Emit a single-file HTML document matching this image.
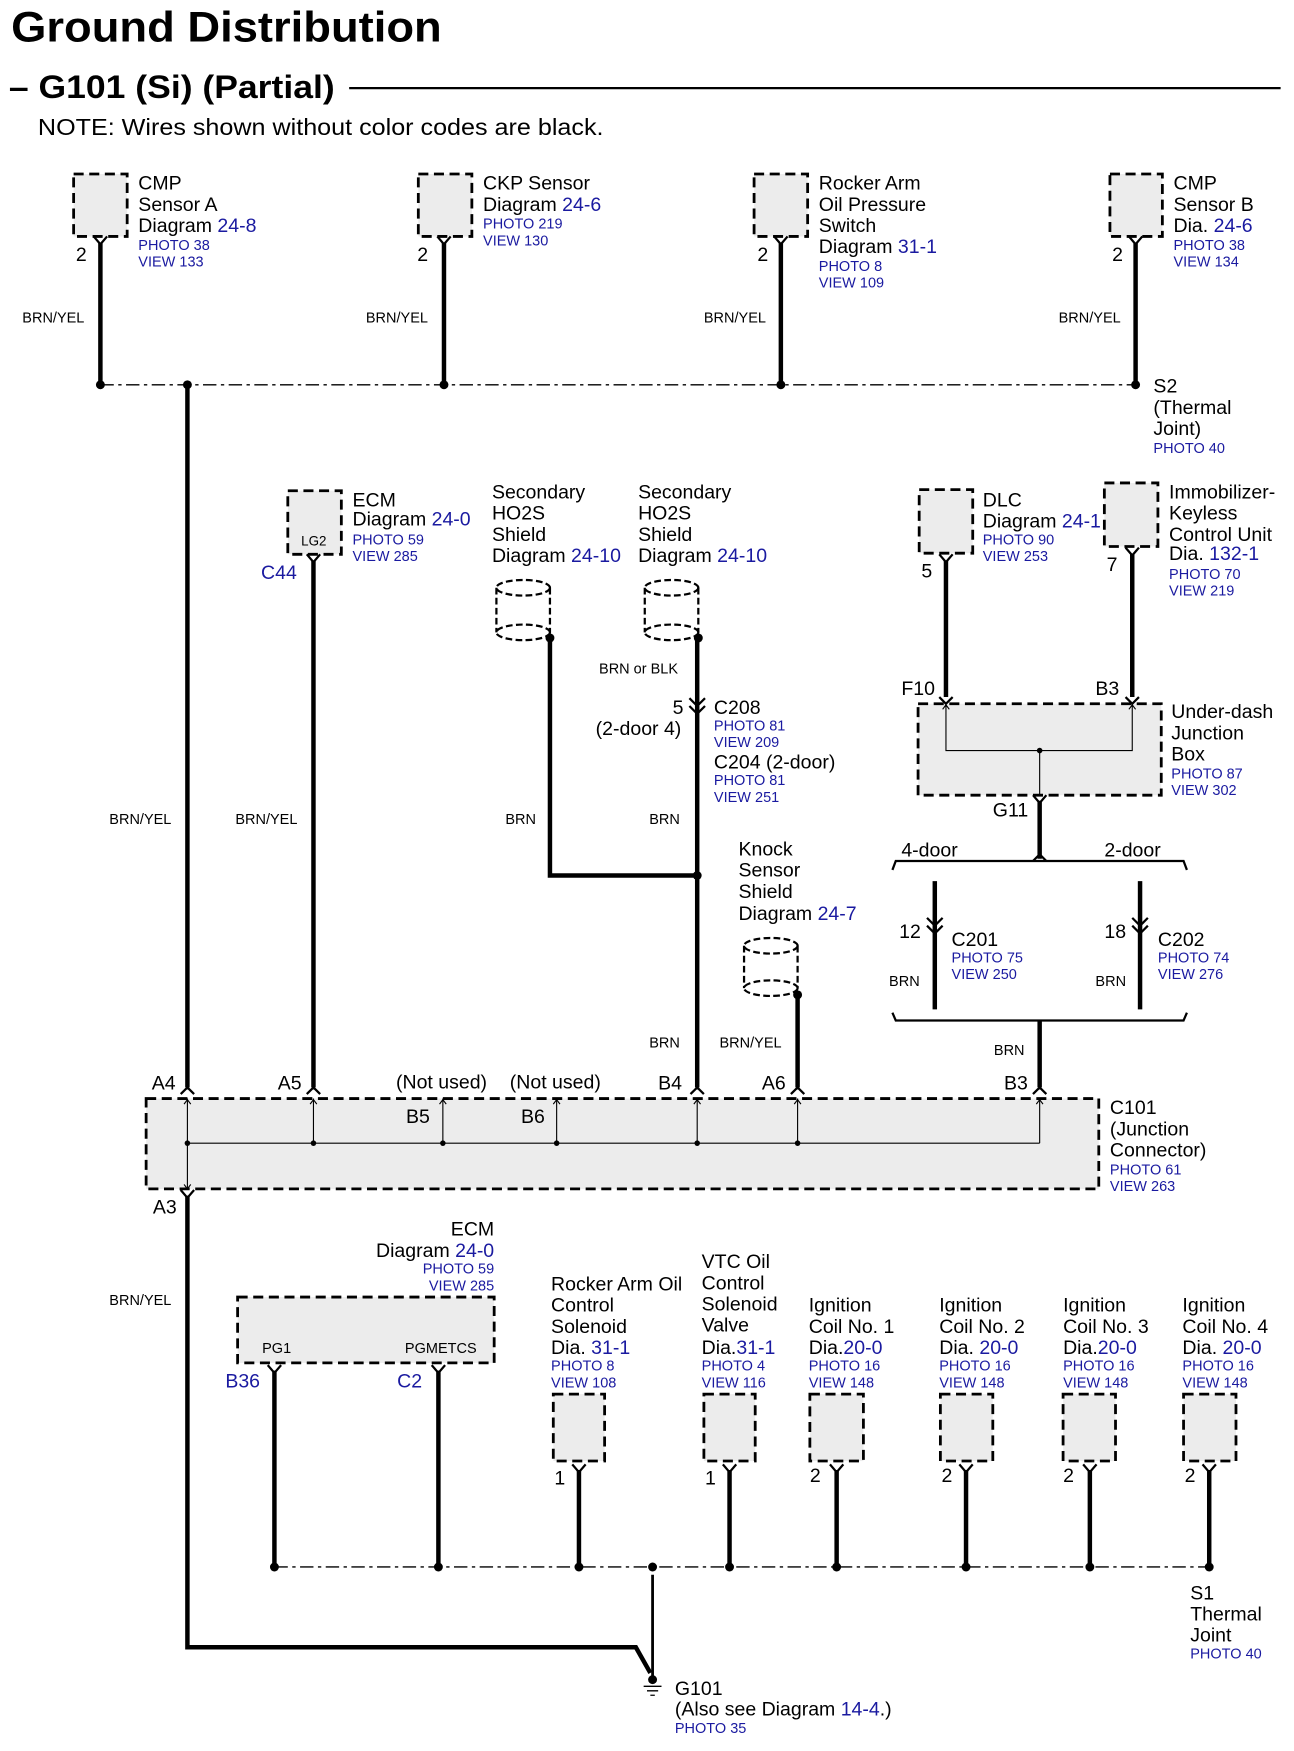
<!DOCTYPE html>
<html><head><meta charset="utf-8"><style>
html,body{margin:0;padding:0;background:#fff;}
svg{display:block}
text{font-family:"Liberation Sans",Arial,sans-serif;fill:#000}
.l{font-size:17.5px}
.b{font-size:13px;fill:#1a1aa0}
.bl{font-size:17.5px;fill:#1a1aa0}
.w{font-size:13px}
.box{fill:#ececec;stroke:#000;stroke-width:2.5;stroke-dasharray:9 5}
.wire{stroke:#000;stroke-width:4;fill:none}
.thin{stroke:#000;stroke-width:1;fill:none}
.f{stroke:#000;stroke-width:2;fill:none}
.dash{stroke:#000;stroke-width:1.2;stroke-dasharray:12 4 3 4;fill:none}
</style></head><body>
<svg width="1294" height="1751" viewBox="0 0 1160 1570" preserveAspectRatio="none">
<text x="10" y="37" style="font-size:38px;font-weight:bold" textLength="386" lengthAdjust="spacingAndGlyphs">Ground Distribution</text>
<text x="8" y="88" style="font-size:29px;font-weight:bold" textLength="292" lengthAdjust="spacingAndGlyphs">– G101 (Si) (Partial)</text>
<line x1="313" y1="79" x2="1148" y2="79" stroke="#000" stroke-width="2"/>
<text x="34" y="121" style="font-size:21px" textLength="507" lengthAdjust="spacingAndGlyphs">NOTE: Wires shown without color codes are black.</text>

<!-- top sensors -->
<rect class="box" x="66" y="156" width="48" height="56"/>
<rect class="box" x="375" y="156" width="48" height="56"/>
<rect class="box" x="676" y="156" width="48" height="56"/>
<rect class="box" x="995" y="156" width="47" height="56"/>
<g class="wire"><path d="M90 218V345M398 218V345M700 218V345M1018 218V345"/></g>
<g class="f"><path d="M84 212L90 219L96 212M392 212L398 219L404 212M694 212L700 219L706 212M1012 212L1018 219L1024 212"/></g>
<text class="l" x="68" y="234">2</text><text class="l" x="374" y="234">2</text><text class="l" x="679" y="234">2</text><text class="l" x="997" y="234">2</text>
<text class="l" x="124" y="170">CMP</text><text class="l" x="124" y="189">Sensor A</text><text class="l" x="124" y="208">Diagram <tspan style="fill:#1a1aa0">24-8</tspan></text><text class="b" x="124" y="224">PHOTO 38</text><text class="b" x="124" y="239">VIEW 133</text>
<text class="l" x="433" y="170">CKP Sensor</text><text class="l" x="433" y="189">Diagram <tspan style="fill:#1a1aa0">24-6</tspan></text><text class="b" x="433" y="205">PHOTO 219</text><text class="b" x="433" y="220">VIEW 130</text>
<text class="l" x="734" y="170">Rocker Arm</text><text class="l" x="734" y="189">Oil Pressure</text><text class="l" x="734" y="208">Switch</text><text class="l" x="734" y="227">Diagram <tspan style="fill:#1a1aa0">31-1</tspan></text><text class="b" x="734" y="243">PHOTO 8</text><text class="b" x="734" y="258">VIEW 109</text>
<text class="l" x="1052" y="170">CMP</text><text class="l" x="1052" y="189">Sensor B</text><text class="l" x="1052" y="208">Dia. <tspan style="fill:#1a1aa0">24-6</tspan></text><text class="b" x="1052" y="224">PHOTO 38</text><text class="b" x="1052" y="239">VIEW 134</text>
<text class="w" x="20" y="289">BRN/YEL</text><text class="w" x="328" y="289">BRN/YEL</text><text class="w" x="631" y="289">BRN/YEL</text><text class="w" x="949" y="289">BRN/YEL</text>
<line class="dash" x1="90" y1="345" x2="1018" y2="345"/>
<g><circle cx="90" cy="345" r="4"/><circle cx="168" cy="345" r="4"/><circle cx="398" cy="345" r="4"/><circle cx="700" cy="345" r="4"/><circle cx="1018" cy="345" r="4"/></g>
<text class="l" x="1034" y="352">S2</text><text class="l" x="1034" y="371">(Thermal</text><text class="l" x="1034" y="390">Joint)</text><text class="b" x="1034" y="406">PHOTO 40</text>

<!-- left main wire -->
<path class="wire" d="M168 345V975"/>
<path class="wire" d="M281 503V975"/>
<rect class="box" x="258" y="440" width="48" height="57"/>
<text x="270" y="489" style="font-size:12px">LG2</text>
<path class="f" d="M275 497L281 504L287 497"/>
<text class="bl" x="234" y="519">C44</text>
<text class="l" x="316" y="454">ECM</text><text class="l" x="316" y="471">Diagram <tspan style="fill:#1a1aa0">24-0</tspan></text><text class="b" x="316" y="488">PHOTO 59</text><text class="b" x="316" y="503">VIEW 285</text>
<text class="w" x="98" y="739">BRN/YEL</text><text class="w" x="211" y="739">BRN/YEL</text>

<!-- HO2S shields -->
<g class="f" stroke-width="2">
<ellipse cx="469" cy="527" rx="24" ry="7" stroke-dasharray="6 3"/>
<path d="M445 527V567M493 527V567" stroke-dasharray="6 3"/>
<ellipse cx="469" cy="567" rx="24" ry="7" stroke-dasharray="6 3"/>
<ellipse cx="602" cy="527" rx="24" ry="7" stroke-dasharray="6 3"/>
<path d="M578 527V567M626 527V567" stroke-dasharray="6 3"/>
<ellipse cx="602" cy="567" rx="24" ry="7" stroke-dasharray="6 3"/>
<ellipse cx="691" cy="848" rx="24" ry="7" stroke-dasharray="6 3"/>
<path d="M667 848V886M715 848V886" stroke-dasharray="6 3"/>
<ellipse cx="691" cy="886" rx="24" ry="7" stroke-dasharray="6 3"/>
</g>
<circle cx="493" cy="572" r="4"/><circle cx="626" cy="572" r="4"/><circle cx="715" cy="892" r="4"/>
<path class="wire" d="M493 572V785H625"/>
<path class="wire" d="M625 572V975"/>
<path class="wire" d="M715 892V975"/>
<circle cx="625" cy="785" r="4"/>
<path class="f" d="M618 626L625 633L632 626M618 633L625 640L632 633" stroke="#000"/>
<text class="l" x="441" y="447">Secondary</text><text class="l" x="441" y="466">HO2S</text><text class="l" x="441" y="485">Shield</text><text class="l" x="441" y="504">Diagram <tspan style="fill:#1a1aa0">24-10</tspan></text>
<text class="l" x="572" y="447">Secondary</text><text class="l" x="572" y="466">HO2S</text><text class="l" x="572" y="485">Shield</text><text class="l" x="572" y="504">Diagram  <tspan style="fill:#1a1aa0">24-10</tspan></text>
<text class="w" x="537" y="604">BRN or BLK</text>
<text class="l" x="603" y="640">5</text><text class="l" x="640" y="640">C208</text>
<text class="l" x="534" y="659">(2-door 4)</text>
<text class="b" x="640" y="655">PHOTO 81</text><text class="b" x="640" y="670">VIEW 209</text>
<text class="l" x="640" y="689">C204 (2-door)</text>
<text class="b" x="640" y="704">PHOTO 81</text><text class="b" x="640" y="719">VIEW 251</text>
<text class="w" x="453" y="739">BRN</text><text class="w" x="582" y="739">BRN</text>
<text class="l" x="662" y="767">Knock</text><text class="l" x="662" y="786">Sensor</text><text class="l" x="662" y="805">Shield</text><text class="l" x="662" y="825">Diagram  <tspan style="fill:#1a1aa0">24-7</tspan></text>
<text class="w" x="582" y="939">BRN</text><text class="w" x="645" y="939">BRN/YEL</text>

<!-- DLC / Immobilizer / Under-dash -->
<rect class="box" x="824" y="439" width="48" height="57"/>
<rect class="box" x="990" y="433" width="48" height="57"/>
<path class="wire" d="M848 503V625M1015 497V625"/>
<path class="f" d="M842 497L848 504L854 497M1009 491L1015 498L1021 491"/>
<text class="l" x="826" y="518">5</text><text class="l" x="992" y="512">7</text>
<text class="l" x="881" y="454">DLC</text><text class="l" x="881" y="473">Diagram <tspan style="fill:#1a1aa0">24-1</tspan></text><text class="b" x="881" y="488">PHOTO 90</text><text class="b" x="881" y="503">VIEW 253</text>
<text class="l" x="1048" y="447">Immobilizer-</text><text class="l" x="1048" y="466">Keyless</text><text class="l" x="1048" y="485">Control Unit</text><text class="l" x="1048" y="502">Dia. <tspan style="fill:#1a1aa0">132-1</tspan></text><text class="b" x="1048" y="519">PHOTO 70</text><text class="b" x="1048" y="534">VIEW 219</text>
<rect class="box" x="823" y="631" width="218" height="82"/>
<path class="f" d="M842 625L848 631L854 625M1009 625L1015 631L1021 625"/>
<path class="thin" d="M848 631V673H1015V631M932 673V713M845 636L848 632L851 636M1012 636L1015 632L1018 636"/>
<circle cx="932" cy="673" r="2.5"/>
<text class="l" x="808" y="623">F10</text><text class="l" x="982" y="623">B3</text>
<text class="l" x="890" y="732">G11</text>
<path class="f" d="M926 713L932 720L938 713"/>
<path class="wire" d="M932 718V770"/>
<text class="l" x="1050" y="644">Under-dash</text><text class="l" x="1050" y="663">Junction</text><text class="l" x="1050" y="682">Box</text><text class="b" x="1050" y="698">PHOTO 87</text><text class="b" x="1050" y="713">VIEW 302</text>
<path class="f" d="M800 780L803 772H1061L1064 780"/>
<path class="f" d="M926 772L932 766L938 772"/>
<text class="l" x="808" y="768">4-door</text><text class="l" x="990" y="768">2-door</text>
<path class="wire" d="M838 790V905M1022 790V905"/>
<path class="f" d="M831 823L838 830L845 823M831 830L838 837L845 830M1015 823L1022 830L1029 823M1015 830L1022 837L1029 830"/>
<text class="l" x="806" y="841">12</text><text class="l" x="853" y="848">C201</text><text class="b" x="853" y="863">PHOTO 75</text><text class="b" x="853" y="878">VIEW 250</text><text class="w" x="797" y="884">BRN</text>
<text class="l" x="990" y="841">18</text><text class="l" x="1038" y="848">C202</text><text class="b" x="1038" y="863">PHOTO 74</text><text class="b" x="1038" y="878">VIEW 276</text><text class="w" x="982" y="884">BRN</text>
<path class="f" d="M800 908L803 915H1061L1064 908"/>
<path class="wire" d="M932 915V975"/>
<text class="w" x="891" y="946">BRN</text>

<!-- C101 -->
<rect class="box" x="131" y="985" width="854" height="81"/>
<g class="f"><path d="M162 981L168 975L174 981M275 981L281 975L287 981M619 981L625 975L631 981M709 981L715 975L721 981M926 981L932 975L938 981"/></g>
<path class="thin" d="M168 985V1066M281 985V1025M397 985V1025M499 985V1025M625 985V1025M715 985V1025M932 985V1025M168 1025H932"/>
<path class="thin" d="M165 990L168 986L171 990M278 990L281 986L284 990M394 990L397 986L400 990M496 990L499 986L502 990M622 990L625 986L628 990M712 990L715 986L718 990M929 990L932 986L935 990M165 1062L168 1066L171 1062"/>
<g><circle cx="168" cy="1025" r="2.5"/><circle cx="281" cy="1025" r="2.5"/><circle cx="397" cy="1025" r="2.5"/><circle cx="499" cy="1025" r="2.5"/><circle cx="625" cy="1025" r="2.5"/><circle cx="715" cy="1025" r="2.5"/></g>
<text class="l" x="136" y="977">A4</text><text class="l" x="249" y="977">A5</text><text class="l" x="355" y="976">(Not used)</text><text class="l" x="457" y="976">(Not used)</text><text class="l" x="590" y="977">B4</text><text class="l" x="683" y="977">A6</text><text class="l" x="900" y="977">B3</text>
<text class="l" x="364" y="1007">B5</text><text class="l" x="467" y="1007">B6</text>
<text class="l" x="995" y="999">C101</text><text class="l" x="995" y="1018">(Junction</text><text class="l" x="995" y="1037">Connector)</text><text class="b" x="995" y="1053">PHOTO 61</text><text class="b" x="995" y="1068">VIEW 263</text>
<text class="l" x="137" y="1088">A3</text>
<path class="f" d="M162 1067L168 1074L174 1067"/>
<path class="wire" d="M168 1072V1477H570L583 1500"/>
<text class="w" x="98" y="1170">BRN/YEL</text>

<!-- bottom ECM -->
<rect class="box" x="213" y="1163" width="230" height="59"/>
<text x="235" y="1213" style="font-size:13px">PG1</text><text x="363" y="1213" style="font-size:13px">PGMETCS</text>
<path class="f" d="M240 1224L246 1231L252 1224M387 1224L393 1231L399 1224"/>
<text class="bl" x="202" y="1244">B36</text><text class="bl" x="356" y="1244">C2</text>
<text class="l" x="443" y="1108" text-anchor="end">ECM</text><text class="l" x="443" y="1127" text-anchor="end">Diagram <tspan style="fill:#1a1aa0">24-0</tspan></text><text class="b" x="443" y="1142" text-anchor="end">PHOTO 59</text><text class="b" x="443" y="1157" text-anchor="end">VIEW 285</text>
<path class="wire" d="M246 1229V1405M393 1229V1405"/>

<!-- small boxes -->
<rect class="box" x="496" y="1250" width="46" height="60"/>
<rect class="box" x="631" y="1250" width="46" height="60"/>
<rect class="box" x="726" y="1250" width="48" height="60"/>
<rect class="box" x="843" y="1250" width="47" height="60"/>
<rect class="box" x="953" y="1250" width="47" height="60"/>
<rect class="box" x="1061" y="1250" width="47" height="60"/>
<path class="f" d="M513 1313L519 1320L525 1313M648 1313L654 1320L660 1313M744 1313L750 1320L756 1313M860 1313L866 1320L872 1313M971 1313L977 1320L983 1313M1078 1313L1084 1320L1090 1313"/>
<path class="wire" d="M519 1318V1405M654 1318V1405M750 1318V1405M866 1318V1405M977 1318V1405M1084 1318V1405"/>
<text class="l" x="497" y="1331">1</text><text class="l" x="632" y="1331">1</text><text class="l" x="726" y="1329">2</text><text class="l" x="844" y="1329">2</text><text class="l" x="953" y="1329">2</text><text class="l" x="1062" y="1329">2</text>
<text class="l" x="494" y="1157">Rocker Arm Oil</text><text class="l" x="494" y="1176">Control</text><text class="l" x="494" y="1195">Solenoid</text><text class="l" x="494" y="1214">Dia. <tspan style="fill:#1a1aa0">31-1</tspan></text><text class="b" x="494" y="1229">PHOTO 8</text><text class="b" x="494" y="1244">VIEW 108</text>
<text class="l" x="629" y="1137">VTC Oil</text><text class="l" x="629" y="1156">Control</text><text class="l" x="629" y="1175">Solenoid</text><text class="l" x="629" y="1194">Valve</text><text class="l" x="629" y="1214">Dia.<tspan style="fill:#1a1aa0">31-1</tspan></text><text class="b" x="629" y="1229">PHOTO 4</text><text class="b" x="629" y="1244">VIEW 116</text>
<g>
<text class="l" x="725" y="1176">Ignition</text><text class="l" x="725" y="1195">Coil No. 1</text><text class="l" x="725" y="1214">Dia.<tspan style="fill:#1a1aa0">20-0</tspan></text><text class="b" x="725" y="1229">PHOTO 16</text><text class="b" x="725" y="1244">VIEW 148</text>
<text class="l" x="842" y="1176">Ignition</text><text class="l" x="842" y="1195">Coil No. 2</text><text class="l" x="842" y="1214">Dia. <tspan style="fill:#1a1aa0">20-0</tspan></text><text class="b" x="842" y="1229">PHOTO 16</text><text class="b" x="842" y="1244">VIEW 148</text>
<text class="l" x="953" y="1176">Ignition</text><text class="l" x="953" y="1195">Coil No. 3</text><text class="l" x="953" y="1214">Dia.<tspan style="fill:#1a1aa0">20-0</tspan></text><text class="b" x="953" y="1229">PHOTO 16</text><text class="b" x="953" y="1244">VIEW 148</text>
<text class="l" x="1060" y="1176">Ignition</text><text class="l" x="1060" y="1195">Coil No. 4</text><text class="l" x="1060" y="1214">Dia. <tspan style="fill:#1a1aa0">20-0</tspan></text><text class="b" x="1060" y="1229">PHOTO 16</text><text class="b" x="1060" y="1244">VIEW 148</text>
</g>
<line class="dash" x1="246" y1="1405" x2="1084" y2="1405"/>
<g><circle cx="246" cy="1405" r="4"/><circle cx="393" cy="1405" r="4"/><circle cx="519" cy="1405" r="4"/><circle cx="585" cy="1405" r="4"/><circle cx="654" cy="1405" r="4"/><circle cx="750" cy="1405" r="4"/><circle cx="866" cy="1405" r="4"/><circle cx="977" cy="1405" r="4"/><circle cx="1084" cy="1405" r="4"/></g>
<path d="M585 1412V1503" stroke="#000" stroke-width="2.5"/>
<circle cx="585" cy="1506" r="4"/>
<path d="M577 1512H593M580 1516H590M583 1520H587" stroke="#000" stroke-width="1.2"/>
<text class="l" x="1067" y="1434">S1</text><text class="l" x="1067" y="1453">Thermal</text><text class="l" x="1067" y="1472">Joint</text><text class="b" x="1067" y="1487">PHOTO 40</text>
<text class="l" x="605" y="1520">G101</text><text class="l" x="605" y="1538">(Also see Diagram <tspan style="fill:#1a1aa0">14-4</tspan>.)</text><text class="b" x="605" y="1554">PHOTO 35</text>
</svg>
</body></html>
